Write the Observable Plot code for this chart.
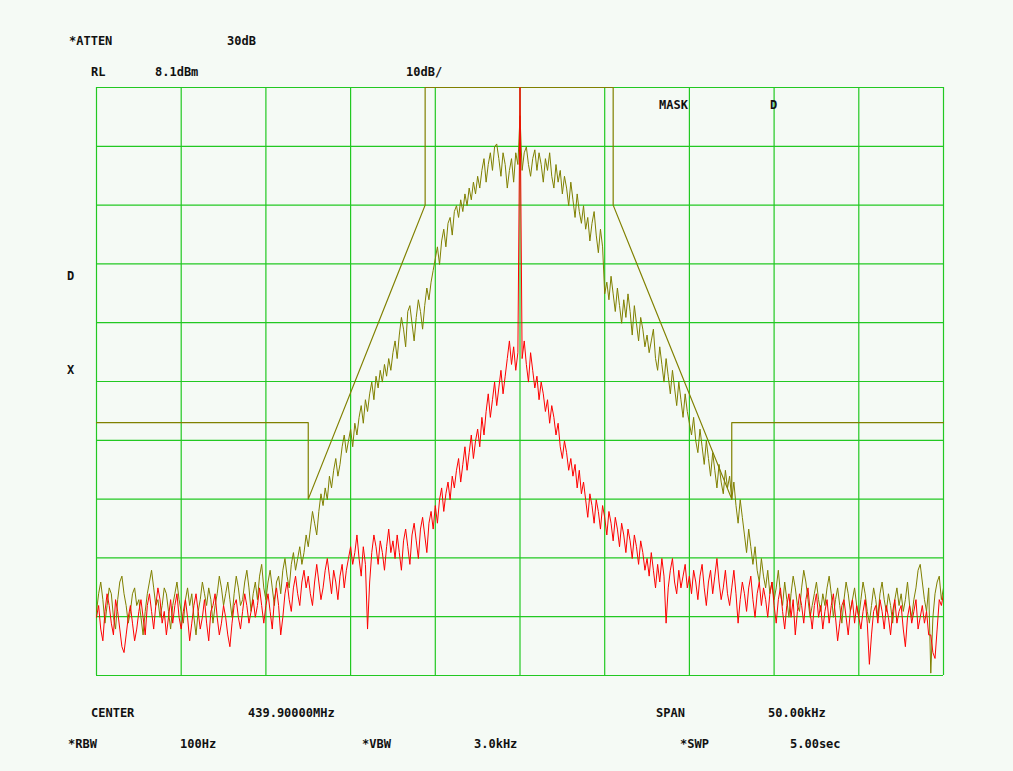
<!DOCTYPE html>
<html>
<head>
<meta charset="utf-8">
<script src="https://cdn.jsdelivr.net/npm/d3@7"></script>
<script src="https://cdn.jsdelivr.net/npm/@observablehq/plot@0.6"></script>
<style>
  html, body { margin: 0; padding: 0; background: #f5faf5; }
  #screen { position: relative; width: 1013px; height: 771px; background: #f5faf5; overflow: hidden; }
  #screen svg { position: absolute; left: 0; top: 0; }
  .lbl {
    position: absolute; font-family: "DejaVu Sans Mono", monospace; font-weight: bold;
    font-size: 12px; line-height: 12px; color: #111; white-space: pre;
  }
</style>
</head>
<body>
<div id="screen"></div>
<script>
// Analyzer settings: centre 439.9 MHz, span 50 kHz, RL 8.1 dBm, 10 dB/div
const refLevel = 8.1;
const freqTicks = [-25, -20, -15, -10, -5, 0, 5, 10, 15, 20, 25];          // kHz offset, 5 kHz/div
const levelTicks = [8.1, -1.9, -11.9, -21.9, -31.9, -41.9, -51.9, -61.9, -71.9, -81.9, -91.9]; // dBm

// Emission mask "D" (kHz offset, dBm)
const maskFreq  = [-25, -12.5, -12.5, -5.6, -5.6, 5.5, 5.5, 12.5, 12.5, 25];
const maskLevel = [-48.9, -48.9, -61.9, -11.9, 8.1, 8.1, -11.9, -61.9, -48.9, -48.9];

// Sweep: 401 points spread evenly from -25 kHz to +25 kHz
const sweepStart = -25, sweepStop = 25;

// Trace A (olive), dBm, 20 points per row
const traceA = [
  -81, -78, -76, -79, -83, -80, -77, -78, -82, -84, -79, -76, -75, -78, -80, -83, -81, -78, -77, -80,
  -79, -82, -85, -81, -78, -76, -74, -77, -80, -79, -82, -80, -77, -78, -81, -84, -80, -78, -76, -79,
  -81, -83, -79, -77, -80, -78, -82, -85, -81, -79, -76, -78, -80, -77, -79, -83, -80, -78, -75, -77,
  -80, -78, -76, -79, -82, -78, -75, -77, -80, -79, -76, -74, -77, -81, -78, -76, -79, -75, -73, -77,
  -79, -76, -74, -77, -80, -76, -75, -78, -74, -72, -75, -77, -73, -71, -74, -72, -70, -73, -71, -68,
  -70, -67, -64, -66, -68, -64, -61, -63, -60, -62, -58, -60, -57, -55, -58, -56, -53, -51, -54, -52,
  -50, -53, -49, -51, -48, -46, -49, -45, -47, -44, -42, -45, -41, -43, -40, -42, -39, -41, -38, -40,
  -37, -35, -38, -34, -31, -33, -36, -30, -29, -32, -35, -31, -28, -30, -33, -29, -26, -28, -25, -23,
  -21, -19, -22, -18, -16, -19, -15, -14, -17, -13, -12, -14, -11, -13, -10, -12, -9, -11, -8, -10,
  -7, -9, -6, -4, -8, -5, -3, -6, -2, -1.5, -4, -7, -3, -5, -9, -6, -4, -8, -3, -5,
  3.3, -6, -3, -2, -5, -7, -4, -2.5, -6, -3, -5, -8, -4, -6, -3, -7, -9, -5, -8, -6,
  -10, -7, -9, -12, -8, -11, -14, -10, -13, -15, -12, -16, -14, -18, -15, -13, -17, -20, -16, -19,
  -27, -25, -28, -24, -27, -30, -26, -29, -32, -28, -31, -27, -30, -34, -29, -32, -35, -31, -33, -36,
  -34, -37, -35, -33, -38, -40, -36, -39, -42, -38, -41, -44, -40, -43, -46, -42, -45, -48, -44, -47,
  -49, -51, -48, -52, -54, -50, -53, -56, -52, -55, -58, -54, -57, -60, -56, -59, -61, -57, -60, -58,
  -62, -59, -63, -66, -62, -65, -68, -71, -67, -70, -73, -70, -74, -76, -72, -75, -77, -74, -78, -76,
  -79, -77, -74, -78, -80, -76, -79, -82, -78, -75, -77, -80, -81, -77, -74, -76, -79, -82, -80, -78,
  -76, -79, -81, -78, -80, -77, -75, -78, -82, -79, -77, -80, -83, -79, -76, -78, -81, -79, -77, -80,
  -82, -79, -76, -78, -81, -83, -80, -77, -79, -82, -78, -76, -79, -81, -78, -80, -83, -79, -77, -80,
  -78, -81, -79, -76, -80, -82, -79, -77, -74, -73, -76, -79, -81, -77, -91.5, -82, -78, -76, -75, -79,
  -77
];

// Trace B (red), dBm, 20 points per row
const traceB = [
  -82, -80, -84, -86, -81, -78, -80, -83, -85, -79, -81, -84, -87, -88, -85, -82, -80, -83, -86, -84,
  -81, -79, -82, -85, -80, -78, -81, -84, -80, -77, -79, -83, -81, -85, -82, -79, -83, -80, -78, -82,
  -84, -81, -79, -82, -86, -83, -80, -78, -81, -84, -82, -79, -83, -86, -81, -80, -78, -82, -85, -83,
  -80, -82, -85, -87, -83, -80, -79, -82, -84, -81, -78, -80, -83, -81, -79, -82, -80, -77, -80, -83,
  -80, -78, -81, -84, -79, -77, -80, -85, -82, -78, -76, -79, -81, -77, -75, -78, -80, -76, -74, -77,
  -75, -78, -80, -76, -73, -76, -79, -77, -74, -72, -75, -78, -74, -76, -79, -75, -73, -77, -74, -72,
  -70, -73, -71, -68, -72, -75, -70, -73, -84, -76, -71, -68, -70, -73, -69, -71, -74, -70, -67, -71,
  -69, -72, -68, -71, -74, -69, -67, -70, -73, -68, -66, -69, -72, -67, -65, -68, -71, -66, -64, -67,
  -63, -66, -62, -60, -64, -61, -59, -62, -58, -60, -57, -55, -59, -56, -53, -57, -54, -51, -55, -52,
  -50, -53, -48, -51, -47, -44, -48, -45, -42, -46, -43, -40, -44, -41, -38, -35, -39, -36, -40, -37,
  8.1, -38, -35, -39, -42, -37, -40, -43, -41, -45, -42, -44, -47, -45, -49, -46, -48, -51, -49, -53,
  -55, -52, -54, -57, -55, -58, -56, -60, -57, -61, -59, -62, -65, -61, -63, -66, -62, -64, -67, -63,
  -65, -68, -64, -66, -69, -65, -67, -70, -66, -68, -71, -67, -69, -72, -68, -70, -73, -69, -71, -74,
  -72, -75, -71, -74, -77, -73, -76, -72, -75, -83, -77, -74, -72, -76, -78, -74, -77, -75, -73, -77,
  -75, -78, -74, -76, -79, -75, -73, -77, -80, -76, -74, -78, -75, -72, -76, -79, -77, -74, -78, -80,
  -77, -74, -78, -83, -79, -76, -78, -81, -77, -75, -79, -82, -78, -76, -80, -77, -79, -82, -78, -76,
  -80, -83, -79, -77, -81, -84, -80, -78, -82, -79, -85, -81, -78, -80, -83, -79, -77, -81, -84, -80,
  -78, -82, -80, -84, -81, -79, -83, -80, -78, -82, -86, -83, -80, -79, -82, -85, -81, -79, -83, -80,
  -82, -84, -81, -79, -83, -90, -85, -81, -80, -83, -79, -81, -84, -80, -82, -85, -81, -79, -83, -81,
  -80, -84, -87, -82, -80, -83, -81, -79, -84, -82, -80, -83, -81, -85, -85, -88, -89, -84, -79, -80,
  -78
];

// Screen annotations
const labels = [
  {text: "*ATTEN", left: 69, top: 35},
  {text: "30dB", left: 227, top: 35},
  {text: "RL", left: 91, top: 66},
  {text: "8.1dBm", left: 155, top: 66},
  {text: "10dB/", left: 406, top: 66},
  {text: "MASK", left: 659, top: 99},
  {text: "D", left: 770, top: 99},
  {text: "D", left: 67, top: 270},
  {text: "X", left: 67, top: 364},
  {text: "CENTER", left: 91, top: 707},
  {text: "439.90000MHz", left: 248, top: 707},
  {text: "SPAN", left: 656, top: 707},
  {text: "50.00kHz", left: 768, top: 707},
  {text: "*RBW", left: 68, top: 738},
  {text: "100Hz", left: 180, top: 738},
  {text: "*VBW", left: 362, top: 738},
  {text: "3.0kHz", left: 474, top: 738},
  {text: "*SWP", left: 680, top: 738},
  {text: "5.00sec", left: 790, top: 738}
];

const gridColor = "#22c822";
const oliveColor = "#808000";
const redColor = "#ff0000";

const mask = maskFreq.map((f, i) => ({f, level: maskLevel[i]}));
const toRows = (arr) => {
  const step = (sweepStop - sweepStart) / (arr.length - 1);
  return arr.map((level, i) => ({f: sweepStart + i * step, level}));
};
const rowsA = toRows(traceA);
const rowsB = toRows(traceB);

const chart = Plot.plot({
  width: 1013,
  height: 771,
  marginLeft: 96,
  marginRight: 70,
  marginTop: 87,
  marginBottom: 96,
  style: {background: "transparent", overflow: "visible"},
  x: {domain: [sweepStart, sweepStop], axis: null},
  y: {domain: [levelTicks[levelTicks.length - 1], refLevel], axis: null},
  marks: [
    Plot.gridX(freqTicks, {stroke: gridColor, strokeOpacity: 1, strokeWidth: 1.2}),
    Plot.gridY(levelTicks, {stroke: gridColor, strokeOpacity: 1, strokeWidth: 1.2}),
    Plot.line(mask, {x: "f", y: "level", stroke: oliveColor, strokeWidth: 1.2}),
    Plot.line(rowsA, {x: "f", y: "level", stroke: oliveColor, strokeWidth: 1, clip: true}),
    Plot.line(rowsB, {x: "f", y: "level", stroke: redColor, strokeWidth: 1, clip: true})
  ]
});

const screen = document.getElementById("screen");
screen.appendChild(chart);
for (const l of labels) {
  const d = document.createElement("div");
  d.className = "lbl";
  d.textContent = l.text;
  d.style.left = l.left + "px";
  d.style.top = l.top + "px";
  screen.appendChild(d);
}
</script>
</body>
</html>
